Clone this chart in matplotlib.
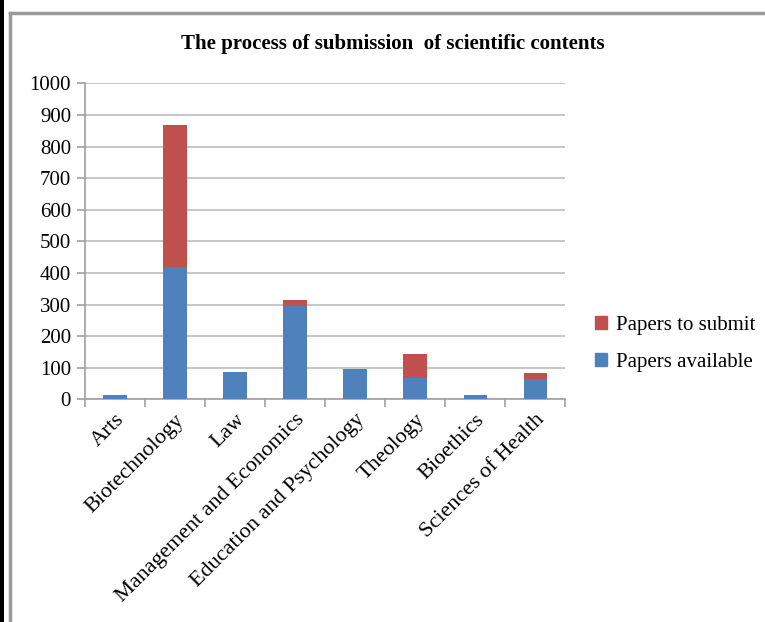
import matplotlib.pyplot as plt
from matplotlib.lines import Line2D
from matplotlib.patches import Patch
import numpy as np

categories = ['Arts', 'Biotechnology', 'Law', 'Management and Economics',
              'Education and Psychology', 'Theology', 'Bioethics', 'Sciences of Health']
papers_available = [15, 420, 87, 295, 97, 67, 15, 63]
papers_to_submit = [0, 447, 0, 19, 0, 78, 0, 19]

yticks = [0, 100, 200, 300, 400, 500, 600, 700, 800, 900, 1000]

blue = '#4F81BD'
red = '#C0504D'
serif = ['Liberation Serif', 'DejaVu Serif']

fig = plt.figure(figsize=(7.65, 6.22), dpi=100)
ax = fig.add_axes([0.111, 0.358, 0.628, 0.508])

x = np.arange(len(categories))
ax.bar(x, papers_available, width=0.39, color=blue, zorder=3)
ax.bar(x, papers_to_submit, width=0.39, bottom=papers_available, color=red, zorder=3)

ax.set_xlim(-0.5, len(categories) - 0.5)
ax.set_ylim(0, 1000)
ax.set_yticks(yticks)
ax.set_yticklabels([str(v) for v in yticks], family=serif, fontsize=15)
ax.yaxis.grid(True, color='#BEBEBE', linewidth=1.2, zorder=0)

# category labels sit at bar centres, ticks go between categories
ax.set_xticks(x)
ax.set_xticklabels(categories, family=serif, fontsize=16, rotation=45,
                   ha='right', rotation_mode='anchor')
ax.tick_params(axis='x', length=0, pad=8)
ax.set_xticks(np.arange(-0.5, len(categories)), minor=True)
ax.tick_params(axis='x', which='minor', length=6, color='#A0A0A0', width=1.2)
ax.tick_params(axis='y', length=6, color='#A0A0A0', width=1.2, pad=4)

for side in ['top', 'right']:
    ax.spines[side].set_visible(False)
for side in ['left', 'bottom']:
    ax.spines[side].set_color('#A0A0A0')
    ax.spines[side].set_linewidth(1.2)

fig.text(0.513, 0.929, 'The process of submission  of scientific contents',
         ha='center', va='center', family=serif, fontsize=15, fontweight='bold')

handles = [Patch(color=red, label='Papers to submit'),
           Patch(color=blue, label='Papers available')]
fig.legend(handles=handles, loc='center left', bbox_to_anchor=(0.753, 0.447),
           frameon=False, prop={'family': serif, 'size': 15},
           handlelength=0.6, handleheight=0.6, handletextpad=0.4, labelspacing=0.85)

# outer chart frame
fig.add_artist(Line2D([0.0, 0.0], [0, 1], transform=fig.transFigure, color='black', linewidth=5))
fig.add_artist(Line2D([0.0137, 0.0137], [0, 0.979], transform=fig.transFigure,
                      color='#9A9A9A', linewidth=2.5))
fig.add_artist(Line2D([0.0137, 1.0], [0.979, 0.979], transform=fig.transFigure,
                      color='#9A9A9A', linewidth=2.5))

fig.savefig('out.png', dpi=100)
